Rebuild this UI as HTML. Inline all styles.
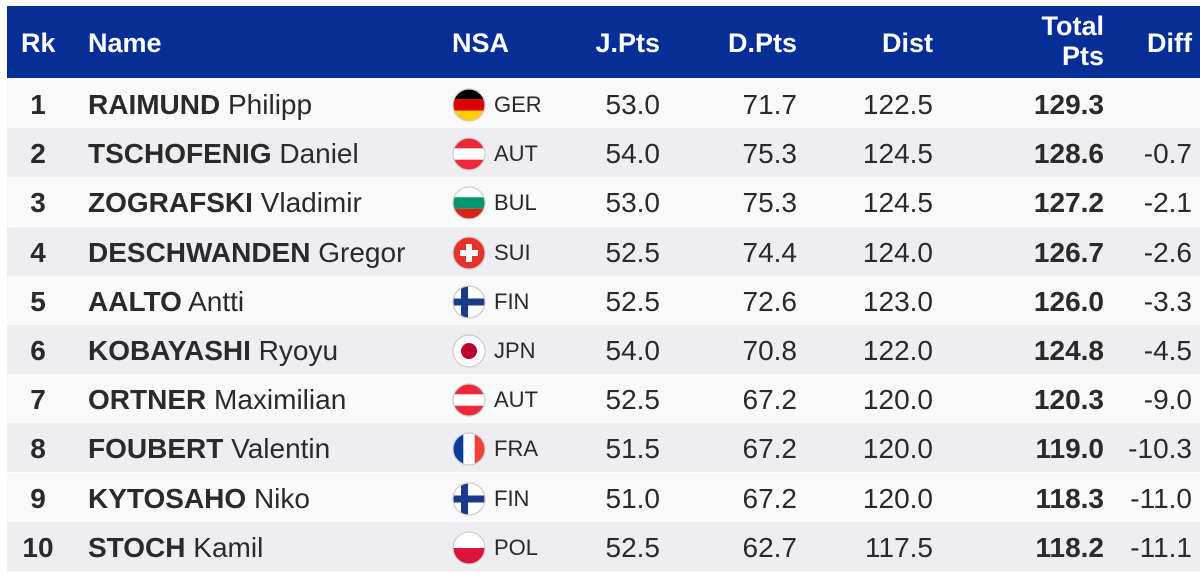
<!DOCTYPE html>
<html><head><meta charset="utf-8"><style>
body{margin:0;width:1200px;height:574px;background:#fff;font-family:"Liberation Sans",Arial,sans-serif;overflow:hidden;position:relative}
.hd{position:absolute;left:7px;top:6px;width:1193px;height:72px;background:#052f96;color:#fff;font-weight:bold;font-size:27px}
.hd div,.r div{position:absolute}
.r{position:absolute;left:7px;width:1193px;height:49px;font-size:28px;color:#2a2a2a}
.r div{top:0;line-height:51px}
.rk{width:62px;text-align:center;left:0;font-weight:bold}
.nm{left:81px}
.fl{left:445px;top:8px!important;width:34px;height:34px}
.cd{left:487px;font-size:22px}
.j{right:540px}.d{right:403px}.ds{right:267px}.t{right:96px;font-weight:bold}.df{right:8px}
</style></head><body>
<div class="hd">
<div style="left:14px;top:22px">Rk</div>
<div style="left:81px;top:22px">Name</div>
<div style="left:445px;top:22px">NSA</div>
<div style="right:540px;top:22px">J.Pts</div>
<div style="right:403px;top:22px">D.Pts</div>
<div style="right:267px;top:22px">Dist</div>
<div style="right:96px;top:5px;text-align:right;line-height:30px">Total<br>Pts</div>
<div style="right:8px;top:22px">Diff</div>
</div>
<svg width="0" height="0" style="position:absolute"><defs>
<clipPath id="c"><circle cx="17" cy="17" r="16"/></clipPath></defs></svg>
<div id="rows"></div>
<script>
const F={
GER:'<rect width="34" height="11.3" fill="#000"/><rect y="11.3" width="34" height="11.4" fill="#dd0000"/><rect y="22.7" width="34" height="11.3" fill="#ffce00"/>',
AUT:'<rect width="34" height="34" fill="#ed2939"/><rect y="11.3" width="34" height="11.4" fill="#fff"/>',
BUL:'<rect width="34" height="11.3" fill="#fff"/><rect y="11.3" width="34" height="11.4" fill="#00966e"/><rect y="22.7" width="34" height="11.3" fill="#d62612"/>',
SUI:'<rect width="34" height="34" fill="#e8312d"/><rect x="14" y="8" width="6" height="18" fill="#fff"/><rect x="8" y="14" width="18" height="6" fill="#fff"/>',
FIN:'<rect width="34" height="34" fill="#fff"/><rect x="9" width="7" height="34" fill="#1a3a8a"/><rect y="13.5" width="34" height="7" fill="#1a3a8a"/>',
JPN:'<rect width="34" height="34" fill="#fff"/><circle cx="17" cy="17" r="8" fill="#bc002d"/>',
FRA:'<rect width="34" height="34" fill="#fff"/><rect width="11.3" height="34" fill="#0a3c9c"/><rect x="22.7" width="11.3" height="34" fill="#ef4135"/>',
POL:'<rect width="34" height="17" fill="#fff"/><rect y="17" width="34" height="17" fill="#dc143c"/>'};
const D=[["RAIMUND","Philipp","GER","53.0","71.7","122.5","129.3",""],
["TSCHOFENIG","Daniel","AUT","54.0","75.3","124.5","128.6","-0.7"],
["ZOGRAFSKI","Vladimir","BUL","53.0","75.3","124.5","127.2","-2.1"],
["DESCHWANDEN","Gregor","SUI","52.5","74.4","124.0","126.7","-2.6"],
["AALTO","Antti","FIN","52.5","72.6","123.0","126.0","-3.3"],
["KOBAYASHI","Ryoyu","JPN","54.0","70.8","122.0","124.8","-4.5"],
["ORTNER","Maximilian","AUT","52.5","67.2","120.0","120.3","-9.0"],
["FOUBERT","Valentin","FRA","51.5","67.2","120.0","119.0","-10.3"],
["KYTOSAHO","Niko","FIN","51.0","67.2","120.0","118.3","-11.0"],
["STOCH","Kamil","POL","52.5","62.7","117.5","118.2","-11.1"]];
let h='';
D.forEach((r,i)=>{const y=79+i*49.2;
h+=`<div class="r" style="top:${y}px;background:${i%2?'#eeeef2':'#f9f9f9'}"><div class="rk">${i+1}</div><div class="nm"><b>${r[0]}</b> ${r[1]}</div><div class="fl"><svg width="34" height="34"><g clip-path="url(#c)">${F[r[2]]}</g><circle cx="17" cy="17" r="16" fill="none" stroke="#ccc" stroke-width="1.2"/></svg></div><div class="cd">${r[2]}</div><div class="j">${r[3]}</div><div class="d">${r[4]}</div><div class="ds">${r[5]}</div><div class="t">${r[6]}</div><div class="df">${r[7]}</div></div>`;});
document.getElementById('rows').innerHTML=h;
</script>
</body></html>
